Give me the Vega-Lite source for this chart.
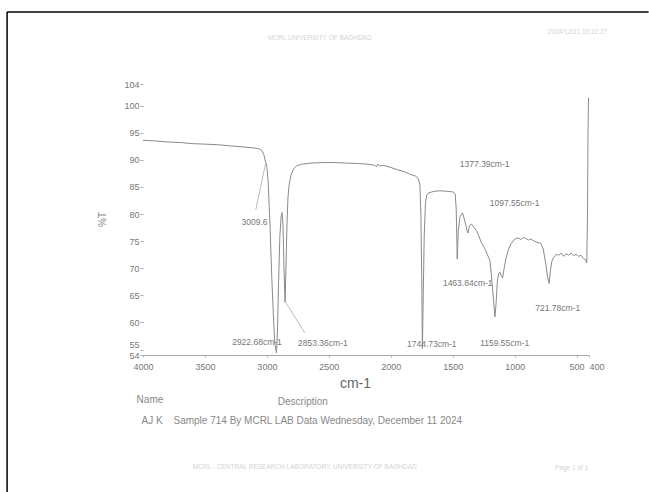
{
  "$schema": "https://vega.github.io/schema/vega-lite/v6.json",
  "autosize": "none",
  "width": 446,
  "height": 271,
  "padding": {"left": 143, "top": 84, "right": 60, "bottom": 137},
  "background": "white",
  "config": {"view": {"stroke": null}, "font": "Liberation Sans", "numberFormat": "d", "axis": {"labelOverlap": false, "grid": false}},
  "datasets": {
    "spectrum": [
      {"w": 4000, "t": 93.6}, {"w": 3900, "t": 93.5}, {"w": 3800, "t": 93.3}, {"w": 3700, "t": 93.2},
      {"w": 3600, "t": 93.0}, {"w": 3500, "t": 92.9}, {"w": 3400, "t": 92.8}, {"w": 3300, "t": 92.6},
      {"w": 3200, "t": 92.4}, {"w": 3100, "t": 92.2}, {"w": 3060, "t": 92.0}, {"w": 3040, "t": 91.7},
      {"w": 3025, "t": 91.0}, {"w": 3015, "t": 90.0}, {"w": 3009.6, "t": 89.6}, {"w": 3000, "t": 88.8},
      {"w": 2990, "t": 86}, {"w": 2975, "t": 78}, {"w": 2960, "t": 68}, {"w": 2945, "t": 60},
      {"w": 2935, "t": 56}, {"w": 2922.68, "t": 54.4}, {"w": 2915, "t": 58}, {"w": 2905, "t": 68},
      {"w": 2895, "t": 76}, {"w": 2885, "t": 79.5}, {"w": 2878, "t": 80.3}, {"w": 2870, "t": 78},
      {"w": 2862, "t": 70}, {"w": 2853.36, "t": 63.7}, {"w": 2846, "t": 70}, {"w": 2838, "t": 78},
      {"w": 2830, "t": 83}, {"w": 2820, "t": 85.5}, {"w": 2805, "t": 87.2}, {"w": 2785, "t": 88.3},
      {"w": 2760, "t": 88.9}, {"w": 2720, "t": 89.2}, {"w": 2650, "t": 89.4}, {"w": 2550, "t": 89.5},
      {"w": 2450, "t": 89.5}, {"w": 2350, "t": 89.4}, {"w": 2250, "t": 89.3}, {"w": 2180, "t": 89.2},
      {"w": 2130, "t": 89.0}, {"w": 2115, "t": 88.7}, {"w": 2105, "t": 89.2}, {"w": 2090, "t": 88.9},
      {"w": 2060, "t": 89.0}, {"w": 2000, "t": 88.6}, {"w": 1950, "t": 88.2}, {"w": 1900, "t": 87.9},
      {"w": 1850, "t": 87.4}, {"w": 1800, "t": 87.0}, {"w": 1780, "t": 86.6}, {"w": 1765, "t": 85.5},
      {"w": 1757, "t": 80}, {"w": 1750, "t": 68}, {"w": 1744.73, "t": 55.2}, {"w": 1738, "t": 65},
      {"w": 1730, "t": 76}, {"w": 1720, "t": 82}, {"w": 1710, "t": 83.5}, {"w": 1695, "t": 83.9},
      {"w": 1650, "t": 84.2}, {"w": 1600, "t": 84.3}, {"w": 1550, "t": 84.2}, {"w": 1500, "t": 84.1},
      {"w": 1480, "t": 83.7}, {"w": 1472, "t": 81}, {"w": 1467, "t": 76}, {"w": 1463.84, "t": 71.7},
      {"w": 1455, "t": 77}, {"w": 1440, "t": 79.6}, {"w": 1420, "t": 80.2}, {"w": 1400, "t": 78.5},
      {"w": 1385, "t": 77}, {"w": 1377.39, "t": 76.5}, {"w": 1365, "t": 77.8}, {"w": 1350, "t": 78.2},
      {"w": 1330, "t": 77.6}, {"w": 1310, "t": 77.0}, {"w": 1290, "t": 76}, {"w": 1270, "t": 74.8},
      {"w": 1250, "t": 74}, {"w": 1238, "t": 73.5}, {"w": 1220, "t": 72.5}, {"w": 1200, "t": 71.5},
      {"w": 1185, "t": 68}, {"w": 1170, "t": 64}, {"w": 1159.55, "t": 61.0}, {"w": 1150, "t": 63.5},
      {"w": 1140, "t": 67.5}, {"w": 1130, "t": 69}, {"w": 1120, "t": 69.3}, {"w": 1110, "t": 68.8},
      {"w": 1097.55, "t": 68.2}, {"w": 1085, "t": 70}, {"w": 1070, "t": 71.8}, {"w": 1050, "t": 73.5},
      {"w": 1030, "t": 74.5}, {"w": 1000, "t": 75.4}, {"w": 970, "t": 75.6}, {"w": 950, "t": 75.3},
      {"w": 930, "t": 75.7}, {"w": 910, "t": 75.5}, {"w": 890, "t": 75.2}, {"w": 870, "t": 75.4},
      {"w": 850, "t": 75.1}, {"w": 820, "t": 74.8}, {"w": 790, "t": 74.6}, {"w": 770, "t": 73.6},
      {"w": 750, "t": 71}, {"w": 735, "t": 68.5}, {"w": 721.78, "t": 67.2}, {"w": 712, "t": 69.5},
      {"w": 700, "t": 71.3}, {"w": 685, "t": 72}, {"w": 665, "t": 72.6}, {"w": 645, "t": 72.4},
      {"w": 625, "t": 72.8}, {"w": 605, "t": 72.2}, {"w": 585, "t": 72.7}, {"w": 565, "t": 72.4},
      {"w": 545, "t": 72.8}, {"w": 525, "t": 72.3}, {"w": 505, "t": 72.6}, {"w": 485, "t": 72.2},
      {"w": 465, "t": 72.4}, {"w": 445, "t": 71.8}, {"w": 430, "t": 71.6}, {"w": 418, "t": 71.0},
      {"w": 412, "t": 80}, {"w": 408, "t": 95}, {"w": 404, "t": 101.5}
    ],
    "peaks": [
      {"w": 3100, "t": 78.6, "label": "3009.6"},
      {"w": 3080, "t": 56.4, "label": "2922.68cm-1"},
      {"w": 2548, "t": 56.2, "label": "2853.36cm-1"},
      {"w": 1669, "t": 56.0, "label": "1744.73cm-1"},
      {"w": 1081, "t": 56.2, "label": "1159.55cm-1"},
      {"w": 1242, "t": 89.2, "label": "1377.39cm-1"},
      {"w": 1000, "t": 82.0, "label": "1097.55cm-1"},
      {"w": 1379, "t": 67.3, "label": "1463.84cm-1"},
      {"w": 653, "t": 62.7, "label": "721.78cm-1"}
    ],
    "leaders": [
      {"w": 3090, "t": 80.8, "w2": 3009.6, "t2": 89.4},
      {"w": 2845, "t": 63.6, "w2": 2694, "t2": 58.1}
    ],
    "notes": [
      {"w": 3944, "t": 45.7, "label": "Name", "kind": "body"},
      {"w": 2710, "t": 45.3, "label": "Description", "kind": "body"},
      {"w": 3927, "t": 41.8, "label": "AJ K", "kind": "body"},
      {"w": 2589, "t": 41.8, "label": "Sample 714 By MCRL LAB Data Wednesday, December 11 2024", "kind": "body"},
      {"w": 2573, "t": 112.5, "label": "MCRL UNIVERSITY OF BAGHDAD", "kind": "faint"},
      {"w": 492, "t": 113.6, "label": "2024/12/11 10:22:27", "kind": "faint"},
      {"w": 2694, "t": 33.3, "label": "MCRL - CENTRAL RESEARCH LABORATORY, UNIVERSITY OF BAGHDAD", "kind": "faint"},
      {"w": 540, "t": 33.1, "label": "Page 1 of 1", "kind": "faint"}
    ],
    "border": [
      {"w": 5097, "t": 117.3, "w2": -81, "t2": 117.3},
      {"w": 5097, "t": 117.3, "w2": 5097, "t2": 28.7}
    ]
  },
  "encoding": {
    "x": {
      "field": "w", "type": "quantitative",
      "scale": {"domain": [400, 4000], "reverse": true, "nice": false, "zero": false},
      "axis": {
        "values": [4000, 3500, 3000, 2500, 2000, 1500, 1000, 500, 400],
        "format": "d",
        "labelOverlap": false, "labelFontSize": 9, "labelColor": "#777",
        "labelAlign": {"expr": "datum.value == 400 ? 'left' : 'center'"},
        "domainColor": "#aaa", "tickColor": "#aaa", "tickSize": 2, "labelPadding": 5,
        "grid": false, "title": "cm-1", "titleFontSize": 14, "titleFontWeight": "normal",
        "titleColor": "#666", "titlePadding": 5, "titleX": 212
      }
    },
    "y": {
      "field": "t", "type": "quantitative",
      "scale": {"domain": [54, 104], "nice": false, "zero": false},
      "axis": {
        "values": [54, 55, 60, 65, 70, 75, 80, 85, 90, 95, 100, 104],
        "labelOverlap": false, "labelFontSize": 9, "labelColor": "#777",
        "labelBaseline": {"expr": "datum.value == 55 ? 'bottom' : 'middle'"},
        "domain": false, "tickColor": "#aaa", "tickSize": 3, "labelPadding": 1,
        "grid": false, "title": "%T", "titleFontSize": 10, "titleFontWeight": "normal",
        "titleColor": "#888", "titleX": -36, "titleY": 135, "titleAngle": -90
      }
    }
  },
  "layer": [
    {
      "data": {"name": "spectrum"},
      "mark": {"type": "line", "color": "#8a8a8a", "strokeWidth": 1, "clip": false},
      "encoding": {
        "order": {"field": "w", "sort": "descending"}
      }
    },
    {
      "data": {"name": "leaders"},
      "mark": {"type": "rule", "color": "#aaa", "strokeWidth": 0.8, "clip": false},
      "encoding": {
        "x2": {"field": "w2"},
        "y2": {"field": "t2"}
      }
    },
    {
      "data": {"name": "peaks"},
      "mark": {"type": "text", "color": "#777", "fontSize": 8.5, "clip": false},
      "encoding": {
        "text": {"field": "label"}
      }
    },
    {
      "data": {"name": "notes"},
      "mark": {"type": "text", "clip": false},
      "encoding": {
        "text": {"field": "label"},
        "color": {"field": "kind", "type": "nominal", "scale": {"domain": ["body", "faint"], "range": ["#888", "#d4d4d4"]}, "legend": null},
        "size": {"field": "kind", "type": "nominal", "scale": {"domain": ["body", "faint"], "range": [10, 6.5]}, "legend": null}
      }
    },
    {
      "data": {"name": "border"},
      "mark": {"type": "rule", "color": "#000", "strokeWidth": 1.5, "clip": false},
      "encoding": {
        "x2": {"field": "w2"},
        "y2": {"field": "t2"}
      }
    }
  ]
}
